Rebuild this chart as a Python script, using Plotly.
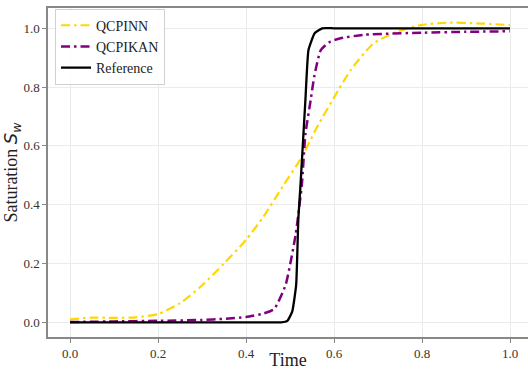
import plotly.graph_objects as go

# Time samples and values
t_ref = [0.0, 0.1, 0.2, 0.3, 0.4, 0.48, 0.494, 0.505, 0.514, 0.519, 0.524, 0.535, 0.542, 0.556, 0.573, 0.6, 0.7, 0.8, 0.9, 1.0]
s_ref = [0.0, 0.0, 0.0, 0.0, 0.0, 0.0, 0.005, 0.036, 0.127, 0.354, 0.47, 0.756, 0.926, 0.983, 1.0, 1.0, 1.0, 1.0, 1.0, 1.0]

t_kan = [0.0, 0.1, 0.2, 0.3, 0.35, 0.4, 0.44, 0.464, 0.49, 0.513, 0.527, 0.535, 0.547, 0.555, 0.57, 0.592, 0.615, 0.668, 0.8, 0.9, 1.0]
s_kan = [0.001, 0.003, 0.005, 0.008, 0.012, 0.018, 0.03, 0.045, 0.127, 0.30, 0.47, 0.64, 0.756, 0.835, 0.926, 0.955, 0.966, 0.978, 0.985, 0.988, 0.99]

t_nn = [0.0, 0.05, 0.1, 0.15, 0.2, 0.25, 0.3, 0.35, 0.4, 0.44, 0.486, 0.527, 0.56, 0.61, 0.638, 0.69, 0.743, 0.797, 0.857, 0.925, 1.0]
s_nn = [0.01, 0.016, 0.015, 0.017, 0.028, 0.065, 0.125, 0.2, 0.28, 0.36, 0.468, 0.563, 0.66, 0.79, 0.858, 0.949, 0.988, 1.011, 1.019, 1.017, 1.011]

x_ticks = [0.0, 0.2, 0.4, 0.6, 0.8, 1.0]
y_ticks = [0.0, 0.2, 0.4, 0.6, 0.8, 1.0]

SERIF = "Liberation Serif, Times New Roman, serif"
DASHDOT = "9px,4px,2.5px,4px"

fig = go.Figure()
fig.add_trace(go.Scatter(x=t_nn, y=s_nn, mode="lines", name="QCPINN",
                         line=dict(color="#FFD700", width=2.2, dash=DASHDOT, shape="spline", smoothing=0.6)))
fig.add_trace(go.Scatter(x=t_kan, y=s_kan, mode="lines", name="QCPIKAN",
                         line=dict(color="#800080", width=2.5, dash=DASHDOT, shape="spline", smoothing=0.5)))
fig.add_trace(go.Scatter(x=t_ref, y=s_ref, mode="lines", name="Reference",
                         line=dict(color="black", width=2.3, shape="spline", smoothing=0.4)))

axis_common = dict(
    showgrid=True, gridcolor="#ebebeb", gridwidth=1,
    zeroline=False, showline=True, linecolor="#888888", linewidth=1.5,
    ticks="outside", ticklen=4, tickcolor="#888888", tickwidth=1,
    tickfont=dict(family=SERIF, size=13, color="#333333"),
    automargin=False,
)

fig.update_layout(
    width=528, height=370,
    margin=dict(l=48, r=0, t=8, b=33, autoexpand=False),
    paper_bgcolor="white", plot_bgcolor="white",
    font=dict(family=SERIF, color="#222222"),
    xaxis=dict(range=[-0.05, 1.0409], tickvals=x_ticks, tickformat=".1f", mirror=True,
               title=dict(text="Time", font=dict(family=SERIF, size=18, color="#222222"), standoff=6),
               **axis_common),
    yaxis=dict(range=[-0.05, 1.069], tickvals=y_ticks, tickformat=".1f",
               title=dict(text="Saturation <span style='font-family:DejaVu Sans'><i>S</i><sub><i>w</i></sub></span>",
                          font=dict(family=SERIF, size=18, color="#222222"), standoff=2),
               **axis_common),
    legend=dict(x=0.0146, y=0.998, xanchor="left", yanchor="top",
                bgcolor="rgba(255,255,255,0.85)", bordercolor="#d0d0d0", borderwidth=1,
                font=dict(family=SERIF, size=14, color="#222222"),
                tracegroupgap=0, itemwidth=30),
    showlegend=True,
)

fig.write_html("out.html", config={"displayModeBar": False},
               post_script="document.body.style.margin='0px';document.body.style.overflow='hidden';")
